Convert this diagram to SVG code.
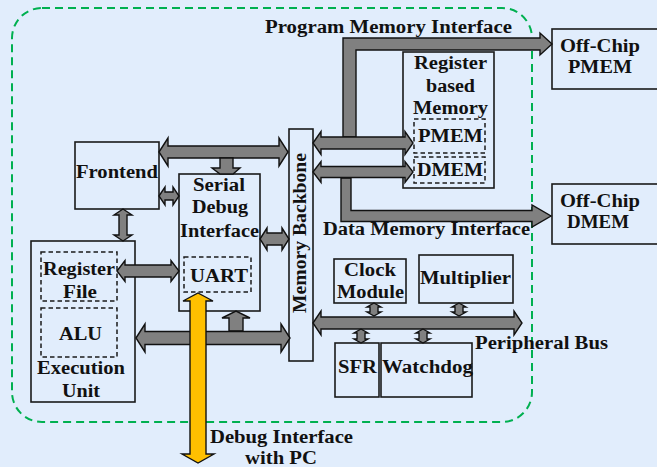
<svg xmlns="http://www.w3.org/2000/svg" width="657" height="467" viewBox="0 0 657 467">
<style>
.bg{fill:#E1EDFC}
.box{fill:#E1EDFC;stroke:#1a1a1a;stroke-width:1.6}
.dbox{fill:none;stroke:#1a1a1a;stroke-width:1.5;stroke-dasharray:4.5 3}
.arr{fill:#808080;stroke:#111;stroke-width:1.4;stroke-linejoin:miter}
.yarr{fill:#FFC000;stroke:#111;stroke-width:1.4}
.border{fill:none;stroke:#00B050;stroke-width:2;stroke-dasharray:8 5}
text{font-family:"Liberation Serif","Times New Roman",serif;font-weight:bold;font-size:18px;fill:#111}
</style>
<rect class="bg" x="0" y="0" width="657" height="467"/>
<rect id="chip-boundary" class="border" x="12" y="8" width="520" height="414" rx="30" ry="30"/>

<g id="offchip-pmem">
<rect class="box" x="552" y="29" width="110" height="60"/>
<text x="560" y="52" textLength="80" lengthAdjust="spacingAndGlyphs">Off-Chip</text>
<text x="568" y="73" textLength="64" lengthAdjust="spacingAndGlyphs">PMEM</text>
</g>
<g id="offchip-dmem">
<rect class="box" x="552" y="184" width="110" height="60"/>
<text x="560" y="207" textLength="80" lengthAdjust="spacingAndGlyphs">Off-Chip</text>
<text x="567" y="228" textLength="62" lengthAdjust="spacingAndGlyphs">DMEM</text>
</g>
<g id="register-memory">
<rect class="box" x="403" y="52" width="91" height="136"/>
<text x="414" y="69" textLength="73" lengthAdjust="spacingAndGlyphs">Register</text>
<text x="426" y="92" textLength="49" lengthAdjust="spacingAndGlyphs">based</text>
<text x="413" y="114" textLength="75" lengthAdjust="spacingAndGlyphs">Memory</text>
<rect class="dbox" x="414" y="119" width="71" height="34"/>
<text x="418" y="142" textLength="65" lengthAdjust="spacingAndGlyphs">PMEM</text>
<rect class="dbox" x="414" y="157" width="71" height="26"/>
<text x="417" y="176" textLength="66" lengthAdjust="spacingAndGlyphs">DMEM</text>
</g>
<g id="frontend">
<rect class="box" x="75" y="142" width="84" height="67"/>
<text x="76" y="178" textLength="82" lengthAdjust="spacingAndGlyphs">Frontend</text>
</g>
<g id="serial-debug">
<rect class="box" x="179" y="174" width="81" height="137"/>
<text x="193" y="191" textLength="52" lengthAdjust="spacingAndGlyphs">Serial</text>
<text x="192" y="213" textLength="56" lengthAdjust="spacingAndGlyphs">Debug</text>
<text x="180" y="237" textLength="79" lengthAdjust="spacingAndGlyphs">Interface</text>
<rect class="dbox" x="184" y="257" width="67" height="35"/>
<text x="190" y="282" textLength="58" lengthAdjust="spacingAndGlyphs">UART</text>
</g>
<g id="memory-backbone">
<rect class="box" x="289" y="129" width="24" height="232"/>
<text transform="translate(306,313) rotate(-90)" x="0" y="0" textLength="160" lengthAdjust="spacingAndGlyphs">Memory Backbone</text>
</g>
<g id="execution-unit">
<rect class="box" x="31" y="241" width="104" height="161"/>
<rect class="dbox" x="41" y="252" width="76" height="49"/>
<text x="43" y="275" textLength="72" lengthAdjust="spacingAndGlyphs">Register</text>
<text x="63" y="298" textLength="34" lengthAdjust="spacingAndGlyphs">File</text>
<rect class="dbox" x="41" y="308" width="76" height="49"/>
<text x="59" y="340" textLength="43" lengthAdjust="spacingAndGlyphs">ALU</text>
<text x="37" y="374" textLength="88" lengthAdjust="spacingAndGlyphs">Execution</text>
<text x="62" y="397" textLength="38" lengthAdjust="spacingAndGlyphs">Unit</text>
</g>
<g id="clock-module">
<rect class="box" x="334" y="259" width="72" height="44"/>
<text x="344" y="276" textLength="52" lengthAdjust="spacingAndGlyphs">Clock</text>
<text x="337" y="298" textLength="67" lengthAdjust="spacingAndGlyphs">Module</text>
</g>
<g id="multiplier">
<rect class="box" x="419" y="255" width="94" height="48"/>
<text x="420" y="284" textLength="91" lengthAdjust="spacingAndGlyphs">Multiplier</text>
</g>
<g id="sfr">
<rect class="box" x="335" y="343" width="44" height="54"/>
<text x="338" y="373" textLength="39" lengthAdjust="spacingAndGlyphs">SFR</text>
</g>
<g id="watchdog">
<rect class="box" x="381" y="343" width="91" height="54"/>
<text x="382" y="373" textLength="91" lengthAdjust="spacingAndGlyphs">Watchdog</text>
</g>

<g id="connectors">
<!-- program memory interface -->
<polygon class="arr" points="343,137 343,38 540,38 540,33 552,44 540,55 540,50 356,50 356,137"/>
<!-- data memory interface -->
<polygon class="arr" points="341,178 341,221.5 532,221.5 532,227 551,216 532,205 532,210.5 351,210.5 351,178"/>
<!-- frontend - backbone -->
<polygon class="arr" points="159,152 168,138 168,146 279,146 279,138 288,152 279,166 279,158 168,158 168,166"/>
<!-- frontend - serial -->
<polygon class="arr" points="159,196 165,187 165,192 173,192 173,187 179,196 173,205 173,200 165,200 165,205"/>
<!-- serial - backbone -->
<polygon class="arr" points="260,239 267,228 267,233 282,233 282,228 289,239 282,250 282,245 267,245 267,250"/>
<!-- register file - serial -->
<polygon class="arr" points="117,271 125,260.5 125,265 171,265 171,260.5 179,271 171,281.5 171,277 125,277 125,281.5"/>
<!-- down arrow into serial -->
<polygon class="arr" points="220,158 233,158 233,168 240,168 233,174 220,174 212,168 220,168"/>
<!-- up arrow into serial -->
<polygon class="arr" points="229,331 229,318 222,318 236,311 250,318 243,318 243,331"/>
<!-- execution - backbone -->
<polygon class="arr" points="136,338 145,324 145,331.5 281,331.5 281,324 290,338 281,352 281,344.5 145,344.5 145,352"/>
<!-- backbone - PMEM -->
<polygon class="arr" points="313,143 321,131.5 321,137 405,137 405,131.5 413,143 405,154.5 405,149 321,149 321,154.5"/>
<!-- backbone - DMEM -->
<polygon class="arr" points="313,172 321,161.5 321,166.5 405,166.5 405,161.5 413,172 405,182.5 405,177.5 321,177.5 321,182.5"/>
<!-- frontend - execution -->
<polygon class="arr" points="123,209 132,215 127,215 127,235 132,235 123,241 114,235 119,235 119,215 114,215"/>
<!-- peripheral bus -->
<polygon class="arr" points="313,323 321,311 321,317 514,317 514,311 522,323 514,335 514,329 321,329 321,335"/>
<!-- peripheral taps -->
<polygon class="arr" points="374,303 381,307 378,307 378,312 381,312 374,316 367,312 370,312 370,307 367,307"/>
<polygon class="arr" points="459,303 466,307 463,307 463,312 466,312 459,316 452,312 455,312 455,307 452,307"/>
<polygon class="arr" points="361,329 368,333 365,333 365,339 368,339 361,343 354,339 357,339 357,333 354,333"/>
<polygon class="arr" points="423,329 430,333 427,333 427,339 430,339 423,343 416,339 419,339 419,333 416,333"/>
<!-- debug interface with PC -->
<polygon class="yarr" points="198,293 213,301 206,301 206,454 214,454 198,463 182,454 190,454 190,301 183,301"/>
</g>

<g id="labels">
<text x="265" y="33" textLength="247" lengthAdjust="spacingAndGlyphs">Program Memory Interface</text>
<text x="323" y="235" textLength="207" lengthAdjust="spacingAndGlyphs">Data Memory Interface</text>
<text x="475" y="349" textLength="133" lengthAdjust="spacingAndGlyphs">Peripheral Bus</text>
<text x="210" y="443" textLength="143" lengthAdjust="spacingAndGlyphs">Debug Interface</text>
<text x="245" y="464" textLength="72" lengthAdjust="spacingAndGlyphs">with PC</text>
</g>
</svg>
